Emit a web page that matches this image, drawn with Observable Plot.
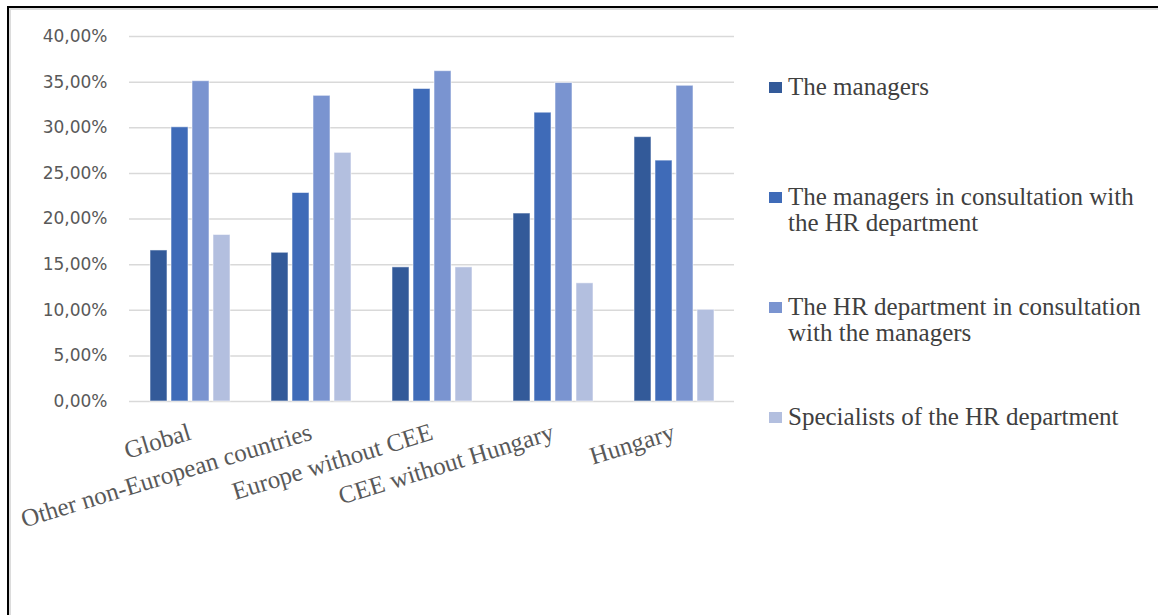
<!DOCTYPE html>
<html>
<head>
<meta charset="utf-8">
<script src="https://cdn.jsdelivr.net/npm/d3@7"></script>
<script src="https://cdn.jsdelivr.net/npm/@observablehq/plot@0.6"></script>
<style>
  body { margin: 0; background: #fff; }
  #frame { position: relative; width: 1158px; height: 615px; overflow: hidden; background: #fff; }
  #edge { position: absolute; left: 7px; top: 6px; right: -10px; bottom: -10px;
          border-left: 2px solid #000; border-top: 2px solid #000; }
  #edge-inner { position: absolute; left: 0; top: 0; right: 0; bottom: 0;
          border-left: 2px solid #dcdcdc; border-top: 2px solid #dcdcdc; }
  #chart { position: absolute; left: 0; top: 0; }
  #legend { position: absolute; left: 769px; top: 74px;
            font-family: "Liberation Serif", "Times New Roman", serif;
            font-size: 25px; line-height: 26px; color: #404040; }
  .item { display: flex; align-items: flex-start; height: 110px; }
  .sw { flex: none; width: 13px; height: 11px; margin-top: 8px; margin-right: 6px; }
  .txt { width: 362px; }
</style>
</head>
<body>
<div id="frame">
  <div id="edge"><div id="edge-inner"></div></div>
  <div id="chart"></div>
  <div id="legend"></div>
</div>
<script>
// Regions compared, and who decides on the issue
const categories = ["Global", "Other non-European countries", "Europe without CEE", "CEE without Hungary", "Hungary"];
const series = [
  "The managers",
  "The managers in consultation with the HR department",
  "The HR department in consultation with the managers",
  "Specialists of the HR department"
];
const colors = ["#335a99", "#3f6bb8", "#7a94d0", "#b3bfdf"];

// Share of answers (%), one array per series, in category order
const managers    = [16.55, 16.30, 14.70, 20.60, 28.97];
const managersHR  = [30.05, 22.85, 34.25, 31.65, 26.40];
const hrManagers  = [35.10, 33.50, 36.20, 34.90, 34.60];
const specialists = [18.25, 27.25, 14.70, 12.95, 10.05];

const yTicks = [0, 5, 10, 15, 20, 25, 30, 35, 40];

const valuesBySeries = [managers, managersHR, hrManagers, specialists];
const rows = [];
categories.forEach((c, i) => {
  series.forEach((s, j) => rows.push({category: c, series: s, value: valuesBySeries[j][i]}));
});

const pct = d => d.toFixed(2).replace(".", ",") + "%";

const chart = Plot.plot({
  width: 745,
  height: 500,
  marginLeft: 128,
  marginRight: 10,
  marginTop: 36,
  marginBottom: 99,
  style: {background: "transparent", overflow: "visible"},
  fx: {domain: categories, padding: 0},
  x: {domain: series, paddingInner: 0.2, paddingOuter: 0.864, axis: null},
  y: {domain: [0, 40]},
  color: {domain: series, range: colors},
  marks: [
    Plot.gridY(yTicks, {stroke: "#d9d9d9", strokeOpacity: 1, strokeWidth: 1.5}),
    Plot.axisY(yTicks, {
      tickFormat: pct, tickSize: 0, tickPadding: 22, label: null,
      fontSize: 17, fontFamily: "DejaVu Sans", fill: "#595959"
    }),
    Plot.barY(rows, {
      fx: "category", x: "series", y: "value", fill: "series",
      stroke: "#ffffff", strokeOpacity: 0.55, strokeWidth: 1
    }),
    Plot.axisFx({
      anchor: "bottom", tickSize: 0, tickPadding: 30, tickRotate: -17, label: null,
      fontSize: 25, fontFamily: "Liberation Serif", fill: "#595959"
    })
  ]
});
document.getElementById("chart").appendChild(chart);

// Legend entries beside the plot
const legend = document.getElementById("legend");
series.forEach((s, j) => {
  const item = document.createElement("div");
  item.className = "item";
  const sw = document.createElement("div");
  sw.className = "sw";
  sw.style.background = colors[j];
  const txt = document.createElement("div");
  txt.className = "txt";
  txt.textContent = s;
  item.append(sw, txt);
  legend.appendChild(item);
});
</script>
</body>
</html>
